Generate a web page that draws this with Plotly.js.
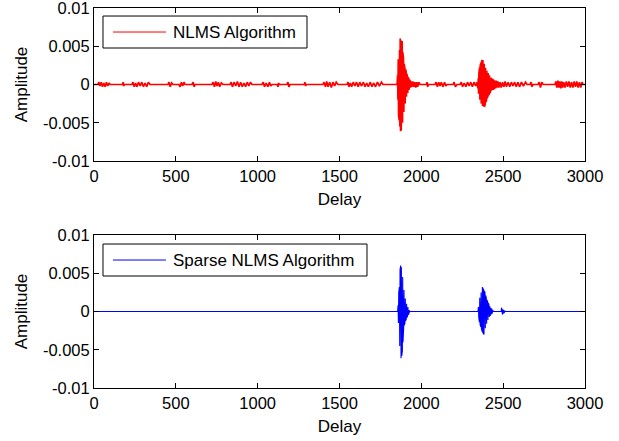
<!DOCTYPE html>
<html>
<head>
<meta charset="utf-8">
<script src="https://cdn.plot.ly/plotly-3.0.1.min.js"></script>
<style>html,body{margin:0;padding:0;background:#fff;}#chart{width:619px;height:441px;}</style>
</head>
<body>
<div id="chart"></div>
<script>
// ---- data ----
const seriesNames = ["NLMS Algorithm", "Sparse NLMS Algorithm"];
const seriesColors = ["#ff0000", "#0000ff"];
const xTickVals = [0, 500, 1000, 1500, 2000, 2500, 3000];
const xTickText = ["0", "500", "1000", "1500", "2000", "2500", "3000"];
const yTickVals = [-0.01, -0.005, 0, 0.005, 0.01];
const yTickText = ["-0.01", "-0.005", "0", "0.005", "0.01"];

// NLMS estimate: delay index and amplitude
const nlmsDelay = [
  0, 24, 30, 36, 44, 52, 60, 68, 76, 84, 92, 98,
  174, 178, 182, 186,
  232, 238, 246, 254, 262, 272, 282, 292, 302, 312, 322, 332, 342,
  452, 458, 466, 474, 483,
  519, 526, 534, 542, 550, 556,
  599, 606, 612, 617,
  721, 728, 736, 744, 752, 760, 768, 778, 788,
  831, 838, 846, 856, 866, 876, 886, 896, 906, 916, 926, 936, 946, 956, 965,
  1026, 1034, 1042, 1052, 1062, 1072, 1080, 1088,
  1120, 1124, 1128, 1132,
  1179, 1185, 1191, 1198,
  1285, 1289, 1293, 1297,
  1399, 1406, 1414, 1422, 1430, 1440, 1450, 1460, 1470, 1480, 1491,
  1546, 1552, 1558, 1566, 1574, 1584, 1594, 1604, 1614, 1624, 1634, 1646, 1656, 1666, 1676, 1688, 1698, 1708, 1720, 1732, 1744, 1756, 1766,
  1852, 1855, 1857, 1859, 1861, 1863, 1865, 1867, 1869, 1871, 1873, 1875, 1877, 1879, 1881, 1883, 1885, 1887, 1889, 1891, 1893, 1895, 1897, 1899,
  1901, 1903, 1905, 1907, 1909, 1911, 1913, 1915, 1917, 1919, 1921, 1923, 1925, 1927, 1929, 1931, 1934, 1938, 1942, 1948, 1954, 1960, 1966, 1972, 1978, 1984, 1992,
  2031, 2035, 2039, 2043,
  2084, 2090, 2098, 2106, 2114, 2122, 2132, 2142, 2150, 2157,
  2194, 2200, 2208, 2218,
  2237, 2244, 2252, 2262, 2272, 2282, 2292, 2302, 2312, 2322, 2332, 2340,
  2346, 2348, 2350, 2352, 2354, 2356, 2358, 2360, 2362, 2364, 2366, 2368, 2370, 2372, 2374, 2376, 2378, 2380, 2382, 2384, 2386, 2388, 2390, 2392, 2394, 2396, 2398, 2400,
  2402, 2404, 2406, 2408, 2410, 2412, 2414, 2416, 2418, 2420, 2422, 2425, 2428, 2431, 2434, 2437, 2440, 2443, 2446, 2450, 2454, 2458, 2462, 2468, 2474, 2480, 2488, 2496,
  2504, 2512, 2520, 2530, 2540, 2550, 2560, 2570, 2580, 2590, 2600, 2612, 2624, 2636, 2646,
  2664, 2670, 2676, 2682,
  2713, 2720, 2728, 2736, 2744,
  2817, 2822, 2828, 2834, 2840, 2846, 2852, 2858, 2864, 2870, 2878, 2886, 2894, 2902, 2910, 2918, 2926, 2934, 2942, 2950, 2958, 2966, 2974, 2982, 2988,
  3000
];
const nlmsAmp = [
  0, 0, 3e-4, -2e-4, 3e-4, -3e-4, 2e-4, -3e-4, 3e-4, -2e-4, 2e-4, 0,
  0, 3e-4, -2e-4, 0,
  0, 3e-4, -3e-4, 2e-4, -3e-4, 3e-4, -2e-4, 3e-4, -3e-4, 2e-4, -3e-4, 3e-4, 0,
  0, 3e-4, -3e-4, 2e-4, 0,
  0, -3e-4, 3e-4, -2e-4, 3e-4, 0,
  0, 3e-4, -3e-4, 0,
  0, 3e-4, -3e-4, 4e-4, -2e-4, 3e-4, -3e-4, 2e-4, 0,
  0, 3e-4, -3e-4, 3e-4, -2e-4, 4e-4, -3e-4, 3e-4, -3e-4, 2e-4, -3e-4, 3e-4, -2e-4, 3e-4, 0,
  0, 3e-4, -3e-4, 2e-4, -3e-4, 3e-4, -2e-4, 0,
  0, -3e-4, 2e-4, 0,
  0, 3e-4, -3e-4, 0,
  0, 3e-4, -2e-4, 0,
  0, 3e-4, -3e-4, 4e-4, -3e-4, 3e-4, -4e-4, 3e-4, -2e-4, 3e-4, 0,
  0, 3e-4, -3e-4, 2e-4, -3e-4, 3e-4, -2e-4, 3e-4, -3e-4, 3e-4, -2e-4, 3e-4, -3e-4, 2e-4, -3e-4, 3e-4, -3e-4, 2e-4, -3e-4, 3e-4, -2e-4, 3e-4, 0,
  0, 0.0012, -0.0020, 0.0033, -0.0040, 0.0028, -0.0047, 0.0045, -0.0055, 0.0060, -0.0061, 0.0058, -0.0060, 0.0055, -0.0058, 0.0057, -0.0050, 0.0042, -0.0040, 0.0033, -0.0036, 0.0027, -0.0030, 0.0022,
  -0.0025, 0.0020, -0.0020, 0.0017, -0.0016, 0.0014, -0.0013, 0.0011, -0.0011, 0.0009, -0.0010, 0.0008, -0.0007, 0.0006, -0.0006, 0.0005, -0.0004, 0.0004, -0.0003, 0.0004, -0.0003, 0.0003, -0.0004, 0.0003, -0.0003, 0.0003, 0,
  0, 3e-4, -3e-4, 0,
  0, 3e-4, -3e-4, 3e-4, -2e-4, 3e-4, -3e-4, 3e-4, -2e-4, 0,
  0, 3e-4, -3e-4, 0,
  0, 3e-4, -3e-4, 2e-4, -3e-4, 3e-4, -2e-4, 3e-4, -3e-4, 3e-4, -2e-4, 3e-4,
  -0.0005, 0.0008, -0.0012, 0.0015, -0.0018, 0.0022, -0.0020, 0.0025, -0.0024, 0.0028, -0.0025, 0.0030, -0.0027, 0.0032, -0.0028, 0.0032, -0.0029, 0.0030, -0.0029, 0.0027, -0.0029, 0.0025, -0.0026, 0.0022, -0.0023, 0.0020, -0.0021, 0.0018,
  -0.0018, 0.0016, -0.0016, 0.0015, -0.0014, 0.0013, -0.0013, 0.0012, -0.0011, 0.0010, -0.0010, 0.0009, -0.0008, 0.0008, -0.0007, 0.0007, -0.0007, 0.0006, -0.0006, 0.0005, -0.0005, 0.0005, -0.0004, 0.0004, -0.0004, 0.0003, -0.0004, 0.0003,
  -3e-4, 4e-4, -3e-4, 3e-4, -3e-4, 3e-4, -2e-4, 3e-4, -3e-4, 3e-4, -3e-4, 3e-4, -2e-4, 3e-4, 0,
  0, 3e-4, -3e-4, 0,
  0, 3e-4, -4e-4, 3e-4, 0,
  0, 4e-4, -4e-4, 5e-4, -4e-4, 4e-4, -5e-4, 4e-4, -4e-4, 3e-4, -4e-4, 4e-4, -3e-4, 4e-4, -4e-4, 3e-4, -4e-4, 4e-4, -3e-4, 4e-4, -4e-4, 3e-4, -4e-4, 3e-4, 0,
  0
];

// Sparse NLMS estimate: delay index and amplitude
const sparseDelay = [
  0, 1040, 1855,
  1858, 1860, 1862, 1864, 1866, 1868, 1870, 1872, 1874, 1876, 1878, 1880, 1882, 1884, 1886, 1888, 1890, 1892, 1894, 1896, 1898, 1900,
  1902, 1904, 1906, 1908, 1910, 1912, 1914, 1916, 1918, 1920, 1922, 1924, 1926, 1928, 1931,
  2346, 2349, 2351, 2353, 2355, 2357, 2359, 2361, 2363, 2365, 2367, 2369, 2371, 2373, 2375, 2377, 2379, 2381, 2383, 2385, 2387, 2389, 2391,
  2393, 2395, 2397, 2399, 2401, 2403, 2405, 2407, 2409, 2411, 2413, 2415, 2418, 2421, 2424, 2427, 2430, 2433, 2436, 2440,
  2488, 2490, 2492, 2494, 2496, 2498, 2500, 2503, 2506, 2510, 2514,
  3000
];
const sparseAmp = [
  0, 0, 0,
  0.0008, -0.0015, 0.0025, -0.0031, 0.0032, -0.0045, 0.0055, -0.0060, 0.0060, -0.0061, 0.0058, -0.0058, 0.0056, -0.0052, 0.0045, -0.0040, 0.0030, -0.0022, 0.0028, -0.0018, 0.0020, -0.0015,
  0.0017, -0.0012, 0.0014, -0.0010, 0.0010, -0.0008, 0.0007, -0.0006, 0.0006, -0.0004, 0.0004, -0.0003, 0.0002, -0.0001, 0,
  0, 0.0006, -0.0008, 0.0012, -0.0014, 0.0018, -0.0017, 0.0022, -0.0020, 0.0025, -0.0022, 0.0028, -0.0026, 0.0032, -0.0028, 0.0031, -0.0030, 0.0029, -0.0030, 0.0027, -0.0026, 0.0025, -0.0022,
  0.0021, -0.0020, 0.0018, -0.0016, 0.0015, -0.0013, 0.0013, -0.0011, 0.0011, -0.0009, 0.0009, -0.0007, 0.0007, -0.0006, 0.0005, -0.0004, 0.0004, -0.0003, 0.0002, 0,
  0, 0.0005, -0.0003, 0.0004, -0.0004, 0.0003, -0.0003, 0.0002, -0.0002, 0.0001, 0,
  0
];

const FAMILY = "Liberation Sans, Arial, sans-serif";
const TICKFONT = {family: FAMILY, size: 16.5, color: "#000"};
const TITLEFONT = {family: FAMILY, size: 17, color: "#000"};

function xAxis(anchor) {
  return {
    anchor: anchor, range: [0, 3000], tickmode: "array", tickvals: xTickVals, ticktext: xTickText,
    ticks: "inside", ticklen: 5, tickcolor: "#000", showline: true, linecolor: "#000", linewidth: 1,
    mirror: "ticks", showgrid: false, zeroline: false, tickfont: TICKFONT, ticklabeloverflow: "allow",
    title: {text: "Delay", font: TITLEFONT, standoff: 9}
  };
}
function yAxis(anchor, domain) {
  return {
    anchor: anchor, domain: domain, range: [-0.0100001, 0.0100001], tickmode: "array", tickvals: yTickVals, ticktext: yTickText,
    ticks: "inside", ticklen: 5, tickcolor: "#000", showline: true, linecolor: "#000", linewidth: 1,
    mirror: "ticks", showgrid: false, zeroline: false, tickfont: TICKFONT, ticklabeloverflow: "allow",
    title: {text: "Amplitude", font: TITLEFONT, standoff: 10}
  };
}

const traces = [
  {x: nlmsDelay, y: nlmsAmp, type: "scatter", mode: "lines", name: seriesNames[0],
   line: {color: seriesColors[0], width: 1.7}, xaxis: "x", yaxis: "y"},
  {x: sparseDelay, y: sparseAmp, type: "scatter", mode: "lines", name: seriesNames[1],
   line: {color: seriesColors[1], width: 1.1}, xaxis: "x2", yaxis: "y2"}
];

// legend boxes drawn in paper coordinates (MATLAB-style legend with long line sample)
const legendBoxes = [
  {x0: 0.0183, x1: 0.4338, y0: 0.8947, y1: 0.9789},
  {x0: 0.0183, x1: 0.5560, y0: 0.2947, y1: 0.3789}
];
const shapes = [];
const annotations = [];
legendBoxes.forEach(function (b, i) {
  const yc = (b.y0 + b.y1) / 2;
  shapes.push({type: "rect", xref: "paper", yref: "paper", x0: b.x0, x1: b.x1, y0: b.y0, y1: b.y1,
    line: {color: "#000", width: 1}, fillcolor: "#fff", layer: "above"});
  shapes.push({type: "line", xref: "paper", yref: "paper", x0: 0.0387, x1: 0.1466, y0: yc, y1: yc,
    line: {color: seriesColors[i], width: 1}, layer: "above"});
  annotations.push({xref: "paper", yref: "paper", x: 0.1588, y: yc, xanchor: "left", yanchor: "middle",
    text: seriesNames[i], showarrow: false, font: TITLEFONT, borderpad: 0});
});

const layout = {
  width: 619, height: 441,
  margin: {l: 94, r: 34, t: 8, b: 53},
  paper_bgcolor: "#fff", plot_bgcolor: "#fff",
  font: TICKFONT,
  showlegend: false,
  xaxis: xAxis("y"),
  yaxis: yAxis("x", [0.5974, 1]),
  xaxis2: xAxis("y2"),
  yaxis2: yAxis("x2", [0, 0.4026]),
  shapes: shapes,
  annotations: annotations
};

Plotly.newPlot("chart", traces, layout, {displayModeBar: false, staticPlot: true});
</script>
</body>
</html>
